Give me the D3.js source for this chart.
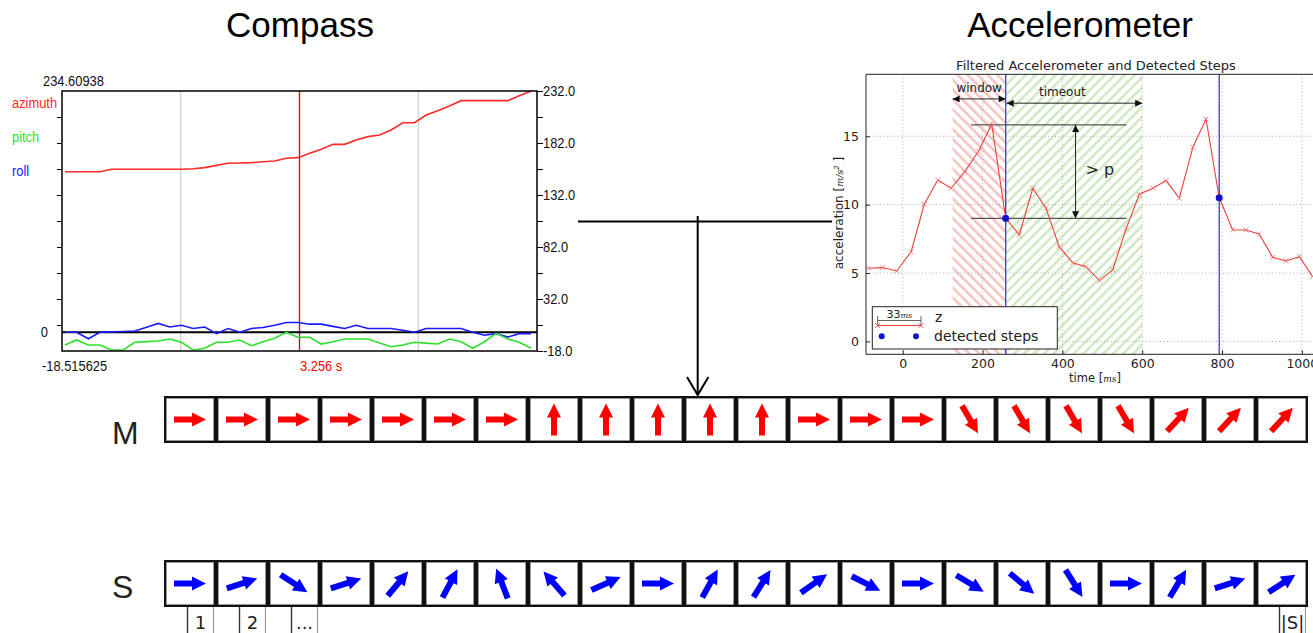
<!DOCTYPE html>
<html>
<head>
<meta charset="utf-8">
<script src="https://cdn.jsdelivr.net/npm/d3@7"></script>
<style>
body { margin: 0; background: #fff; }
svg { display: block; }
</style>
</head>
<body>
<svg width="1313" height="633"></svg>
<script>
// --- compass samples (degrees), one per sample index
var azimuth = [154.4,154.4,154.4,154.4,156.7,156.7,156.7,156.7,156.7,156.7,156.7,157.2,158.3,160.5,162.5,162.8,163.1,164.0,164.7,167.3,167.9,172.1,175.9,180.7,180.7,184.9,188.1,189.7,194.5,201.5,201.5,208.9,213.1,217.6,222.7,222.7,222.7,222.7,222.7,227.5,232.0];
var pitch = [-12.2,-7.4,-12.2,-12.2,-17,-17,-9.6,-9,-8.4,-6.5,-9.6,-17,-15.4,-9.6,-9.6,-7.4,-12.9,-9.1,-5.8,0,-4.8,-4.8,-11.3,-9.1,-6.5,-6.5,-6.5,-10.2,-13.9,-12.2,-9.6,-10.4,-11.3,-6.5,-9.1,-15.4,-9.1,-1,-6.5,-9.6,-15.4];
var roll = [0,0,-6.2,0,0.4,0.8,1.2,4.8,8.5,5.1,6.8,3.6,5.1,-1.3,3.6,0,3.6,4.6,6.8,9.4,9.4,7.8,7.8,5.7,3.6,6.8,3.6,3.6,3.6,1.9,0,3.6,3.6,3.6,3.6,0,-2.9,-1.3,-4.6,-1.3,-1.3];
var compassNames = ["azimuth", "pitch", "roll"];
var compassRightTicks = [232, 182, 132, 82, 32, -18];
var compassMax = "234.60938", compassMin = "-18.515625", cursorLabel = "3.256 s";

// --- accelerometer
var accTime = [-86,-50,-15,21,54,88,121,155,190,223,258,292,326,359,392,426,459,493,526,560,593,627,660,693,727,760,793,827,860,893,927,960,994,1027];
var accZ = [5.35,5.4,5.15,6.56,10.03,11.8,11.2,12.4,13.9,15.9,9.0,7.8,11.2,9.74,6.93,5.76,5.47,4.45,5.23,8.27,10.76,11.2,11.76,10.47,14.2,16.26,10.5,8.15,8.15,7.86,6.15,5.88,6.2,4.74];
var stepTime = [258, 793];
var stepZ = [9.0, 10.5];
var windowSpan = [125, 258];
var timeoutSpan = [258, 600];
var peakLevels = [15.83, 9.0];
var accXTicks = [0, 200, 400, 600, 800, 1000];
var accYTicks = [0, 5, 10, 15];

// --- direction cells (degrees, counter-clockwise from east)
var magAngles = [0,0,0,0,0,0,0,90,90,90,90,90,0,0,0,-60,-60,-60,-60,47,47,47];
var stepAngles = [0,18,-33,18,50,62,111,131,24,0,61,58,35,-27,0,-31,-40,-58,0,59,18,33];
var indexLabels = [[0, "1"], [1, "2"], [2, "..."], [21, "|S|"]];

var svg = d3.select("svg");
var sans = "'Liberation Sans', Arial, sans-serif";
var mpl = "'DejaVu Sans', sans-serif";

// condensed look of the compass widget text
function ntext(g, x, y, str, color, anchor) {
  return g.append("text")
    .attr("transform", "translate(" + x + "," + y + ") scale(0.86,1)")
    .attr("text-anchor", anchor || "start")
    .attr("fill", color || "#111")
    .style("font", "15px " + sans).text(str);
}

var defs = svg.append("defs");
function hatch(id, color, angle) {
  var p = defs.append("pattern").attr("id", id)
    .attr("patternUnits", "userSpaceOnUse")
    .attr("width", 7).attr("height", 7)
    .attr("patternTransform", "rotate(" + angle + ")");
  p.append("rect").attr("width", 7).attr("height", 7).attr("fill", "#fff");
  p.append("rect").attr("width", 2.6).attr("height", 7).attr("fill", color);
}
hatch("hatchRed", "#f5c4c4", -45);
hatch("hatchGreen", "#cfe9c3", 45);
defs.append("marker").attr("id", "tri")
  .attr("viewBox", "0 0 10 10").attr("refX", 10).attr("refY", 5)
  .attr("markerWidth", 9).attr("markerHeight", 7)
  .attr("markerUnits", "userSpaceOnUse")
  .attr("orient", "auto-start-reverse")
  .append("path").attr("d", "M0,0 L10,5 L0,10 Z").attr("fill", "#111");

// titles
svg.append("text").attr("x", 300).attr("y", 37).attr("text-anchor", "middle")
  .style("font", "35px " + sans).text("Compass");
svg.append("text").attr("x", 1080).attr("y", 37).attr("text-anchor", "middle")
  .style("font", "35px " + sans).text("Accelerometer");

//Compass===
var cp = {left: 62, right: 537, top: 91, bottom: 351};
var cx = d3.scaleLinear().domain([0, azimuth.length - 1]).range([65, 531]);
var cy = d3.scaleLinear().domain([-18, 232]).range([cp.bottom, cp.top]);
var cg = svg.append("g");

[0.25, 0.75].forEach(function(f) {
  var x = cp.left + f * (cp.right - cp.left);
  cg.append("line").attr("x1", x).attr("x2", x).attr("y1", cp.top).attr("y2", cp.bottom)
    .attr("stroke", "#c4c4c4").attr("stroke-width", 1);
});
var cursorX = (cp.left + cp.right) / 2;
cg.append("line").attr("x1", cursorX).attr("x2", cursorX).attr("y1", cp.top).attr("y2", cp.bottom)
  .attr("stroke", "#ff0000").attr("stroke-width", 1.4);
cg.append("line").attr("x1", cp.left).attr("x2", cp.right).attr("y1", cy(0)).attr("y2", cy(0))
  .attr("stroke", "#000").attr("stroke-width", 2);

var cline = d3.line().x(function(d, i) { return cx(i); }).y(function(d) { return cy(d); });
[[roll, "#1a1aff"], [pitch, "#2ee02e"], [azimuth, "#ff2a2a"]].forEach(function(s) {
  cg.append("path").datum(s[0]).attr("d", cline).attr("fill", "none")
    .attr("stroke", s[1]).attr("stroke-width", 1.6);
});

cg.append("rect").attr("x", cp.left).attr("y", cp.top)
  .attr("width", cp.right - cp.left).attr("height", cp.bottom - cp.top)
  .attr("fill", "none").attr("stroke", "#000").attr("stroke-width", 1.5);

var rightAxis = d3.axisRight(cy).tickValues(d3.range(-18, 233, 25)).tickSize(6).tickFormat("");
var ra = cg.append("g").attr("transform", "translate(" + cp.right + ",0)").call(rightAxis);
var leftAxis = d3.axisLeft(cy).tickValues(d3.range(7, 208, 25)).tickSize(5).tickFormat("");
var la = cg.append("g").attr("transform", "translate(" + cp.left + ",0)").call(leftAxis);
[ra, la].forEach(function(a) {
  a.select(".domain").remove();
  a.selectAll("line").attr("stroke", "#000");
});
compassRightTicks.forEach(function(v) {
  ntext(cg, cp.right + 6, cy(v) + 5, v.toFixed(1));
});

ntext(cg, 48, cy(0) + 5, "0", "#111", "end");
ntext(cg, 43, 86, compassMax);
ntext(cg, 42, 371, compassMin);
ntext(cg, 300, 371, cursorLabel, "#ff0000");
var nameColors = ["#ff2a2a", "#2ee02e", "#1a1aff"];
compassNames.forEach(function(n, i) {
  ntext(cg, 12, 108 + i * 34, n, nameColors[i]);
});

//Accelerometer===
var ap = {left: 866, right: 1313, top: 74.3, bottom: 354.3};
var ax = d3.scaleLinear().domain([-92, 1028]).range([ap.left, ap.right]);
var ay = d3.scaleLinear().domain([-0.94, 19.53]).range([ap.bottom, ap.top]);
var ag = svg.append("g");
defs.append("clipPath").attr("id", "accClip").append("rect")
  .attr("x", ap.left).attr("y", ap.top).attr("width", ap.right - ap.left).attr("height", ap.bottom - ap.top);
var inner = ag.append("g").attr("clip-path", "url(#accClip)");

inner.append("rect").attr("x", ax(windowSpan[0])).attr("y", ap.top)
  .attr("width", ax(windowSpan[1]) - ax(windowSpan[0])).attr("height", ap.bottom - ap.top)
  .attr("fill", "url(#hatchRed)");
inner.append("rect").attr("x", ax(timeoutSpan[0])).attr("y", ap.top)
  .attr("width", ax(timeoutSpan[1]) - ax(timeoutSpan[0])).attr("height", ap.bottom - ap.top)
  .attr("fill", "url(#hatchGreen)");

accXTicks.forEach(function(t) {
  inner.append("line").attr("x1", ax(t)).attr("x2", ax(t)).attr("y1", ap.top).attr("y2", ap.bottom)
    .attr("stroke", "#9a9a9a").attr("stroke-width", 0.8).attr("stroke-dasharray", "1,2.5");
});
accYTicks.forEach(function(v) {
  inner.append("line").attr("x1", ap.left).attr("x2", ap.right).attr("y1", ay(v)).attr("y2", ay(v))
    .attr("stroke", "#9a9a9a").attr("stroke-width", 0.8).attr("stroke-dasharray", "1,2.5");
});

stepTime.forEach(function(t) {
  inner.append("line").attr("x1", ax(t)).attr("x2", ax(t)).attr("y1", ap.top).attr("y2", ap.bottom)
    .attr("stroke", "#3c3cd8").attr("stroke-width", 1.3);
});

// "> p" levels
peakLevels.forEach(function(v) {
  inner.append("line").attr("x1", ax(171)).attr("x2", ax(561)).attr("y1", ay(v)).attr("y2", ay(v))
    .attr("stroke", "#555").attr("stroke-width", 1.2);
});
inner.append("line").attr("x1", ax(433)).attr("x2", ax(433))
  .attr("y1", ay(peakLevels[0])).attr("y2", ay(peakLevels[1]))
  .attr("stroke", "#222").attr("stroke-width", 1)
  .attr("marker-start", "url(#tri)").attr("marker-end", "url(#tri)");
inner.append("text").attr("x", ax(433) + 10).attr("y", ay(12.5) + 5)
  .style("font", "16px " + mpl).attr("fill", "#222").text("> p");

// window / timeout arrows
inner.append("line").attr("x1", ax(windowSpan[0])).attr("x2", ax(windowSpan[1]))
  .attr("y1", ay(17.73)).attr("y2", ay(17.73)).attr("stroke", "#222")
  .attr("marker-start", "url(#tri)").attr("marker-end", "url(#tri)");
inner.append("text").attr("x", (ax(windowSpan[0]) + ax(windowSpan[1])) / 2).attr("y", ay(18.25))
  .attr("text-anchor", "middle").style("font", "12px " + mpl).attr("fill", "#222").text("window");
inner.append("line").attr("x1", ax(timeoutSpan[0]) + 1).attr("x2", ax(timeoutSpan[1]))
  .attr("y1", ay(17.42)).attr("y2", ay(17.42)).attr("stroke", "#222")
  .attr("marker-start", "url(#tri)").attr("marker-end", "url(#tri)");
inner.append("text").attr("x", ax(400)).attr("y", ay(17.95))
  .attr("text-anchor", "middle").style("font", "12px " + mpl).attr("fill", "#222").text("timeout");

// signal
var accPts = accTime.map(function(t, i) { return [t, accZ[i]]; });
inner.append("path").datum(accPts)
  .attr("d", d3.line().x(function(d) { return ax(d[0]); }).y(function(d) { return ay(d[1]); }))
  .attr("fill", "none").attr("stroke", "#e8403e").attr("stroke-width", 1.1);
inner.selectAll(".xm").data(accPts).enter().append("path")
  .attr("transform", function(d) { return "translate(" + ax(d[0]) + "," + ay(d[1]) + ")"; })
  .attr("d", "M-2.5,-2.5L2.5,2.5M-2.5,2.5L2.5,-2.5")
  .attr("stroke", "#f07070").attr("stroke-width", 0.8);
stepTime.forEach(function(t, i) {
  inner.append("circle").attr("cx", ax(t)).attr("cy", ay(stepZ[i])).attr("r", 3.5).attr("fill", "#1010d0");
});

// frame and ticks
ag.append("path")
  .attr("d", "M" + ap.right + "," + ap.top + "H" + ap.left + "V" + ap.bottom + "H" + ap.right)
  .attr("fill", "none").attr("stroke", "#222").attr("stroke-width", 1);
var xa = ag.append("g").attr("transform", "translate(0," + ap.bottom + ")")
  .call(d3.axisBottom(ax).tickValues(accXTicks).tickSize(-4).tickPadding(5).tickFormat(d3.format("d")));
var ya = ag.append("g").attr("transform", "translate(" + ap.left + ",0)")
  .call(d3.axisLeft(ay).tickValues(accYTicks).tickSize(-4).tickPadding(7));
[xa, ya].forEach(function(a) {
  a.select(".domain").remove();
  a.selectAll("line").attr("stroke", "#222");
  a.selectAll("text").style("font", "12.5px " + mpl).attr("fill", "#222");
});

ag.append("text").attr("x", 1096).attr("y", 70).attr("text-anchor", "middle")
  .style("font", "13px " + mpl).attr("fill", "#222").text("Filtered Accelerometer and Detected Steps");
var xl = ag.append("text").attr("x", 1095).attr("y", 382).attr("text-anchor", "middle")
  .style("font", "11.5px " + mpl).attr("fill", "#222");
xl.append("tspan").text("time [");
xl.append("tspan").style("font-style", "italic").style("font-family", "'DejaVu Serif', serif").style("font-size", "9px").text("ms");
xl.append("tspan").text("]");
var yl = ag.append("text").attr("transform", "translate(843,213) rotate(-90)").attr("text-anchor", "middle")
  .style("font", "12px " + mpl).attr("fill", "#222");
yl.append("tspan").text("acceleration [");
yl.append("tspan").style("font-style", "italic").style("font-family", "'DejaVu Serif', serif").style("font-size", "9.5px").text("m/s");
yl.append("tspan").attr("dy", -4).style("font-size", "7px").style("font-style", "italic").text("2");
yl.append("tspan").attr("dy", 4).text(" ]");

// legend
var lg = ag.append("g");
lg.append("rect").attr("x", 872.3).attr("y", 306.7).attr("width", 185).attr("height", 42.3)
  .attr("fill", "#fff").attr("stroke", "#222").attr("stroke-width", 1);
lg.append("path").attr("d", "M877.7,316V326M921,316V326M877.7,320.5H921")
  .attr("stroke", "#555").attr("stroke-width", 0.9).attr("fill", "none");
var lt = lg.append("text").attr("x", 899.3).attr("y", 318).attr("text-anchor", "middle")
  .style("font", "11px " + mpl).attr("fill", "#222");
lt.append("tspan").text("33");
lt.append("tspan").style("font-style", "italic").style("font-family", "'DejaVu Serif', serif").style("font-size", "8px").text("ms");
lg.append("line").attr("x1", 877.7).attr("x2", 921).attr("y1", 325.5).attr("y2", 325.5)
  .attr("stroke", "#e8403e").attr("stroke-width", 1.1);
[877.7, 921].forEach(function(x) {
  lg.append("path").attr("transform", "translate(" + x + ",325.5)")
    .attr("d", "M-2.5,-2.5L2.5,2.5M-2.5,2.5L2.5,-2.5").attr("stroke", "#e8403e").attr("stroke-width", 0.8);
});
lg.append("text").attr("x", 935).attr("y", 322).style("font", "14px " + mpl).attr("fill", "#222").text("z");
[881.7, 916].forEach(function(x) {
  lg.append("circle").attr("cx", x).attr("cy", 336.3).attr("r", 3).attr("fill", "#1010d0");
});
lg.append("text").attr("x", 934).attr("y", 341).style("font", "14px " + mpl).attr("fill", "#222").text("detected steps");

//Connector===
svg.append("path").attr("d", "M578,221.5H832M697.7,216V395")
  .attr("stroke", "#000").attr("stroke-width", 2).attr("fill", "none");
svg.append("path").attr("d", "M687,377L697.7,395L708.4,377")
  .attr("stroke", "#000").attr("stroke-width", 2).attr("fill", "none");

//Cells===
var cell = d3.scaleBand().domain(d3.range(22)).range([164, 1308]);
var arrowShape = "M-16,-3L2,-3L2,-7L16,0L2,7L2,3L-16,3Z";
function drawRow(y0, angles, color, label, labelY) {
  var g = svg.append("g");
  g.append("rect").attr("x", 164).attr("y", y0).attr("width", 1144).attr("height", 47).attr("fill", "#111");
  var c = g.selectAll(".c").data(angles).enter().append("g")
    .attr("transform", function(d, i) { return "translate(" + cell(i) + "," + y0 + ")"; });
  c.append("rect").attr("x", 2.5).attr("y", 2.5).attr("width", 47).attr("height", 42)
    .attr("fill", "#fff").attr("stroke", "#9a9a9a").attr("stroke-width", 0.8);
  c.append("path").attr("d", arrowShape).attr("fill", color)
    .attr("transform", function(d) { return "translate(26,23.5) rotate(" + (-d) + ")"; });
  g.append("text").attr("x", 112).attr("y", labelY).style("font", "32px " + sans)
    .attr("fill", "#222").text(label);
}
drawRow(396, magAngles, "#ff0000", "M", 444);
drawRow(560, stepAngles, "#0000ff", "S", 598);

indexLabels.forEach(function(d) {
  var x0 = cell(d[0]) + 23.5;
  svg.append("line").attr("x1", x0).attr("x2", x0).attr("y1", 607).attr("y2", 633)
    .attr("stroke", "#333").attr("stroke-width", 1.4);
  svg.append("line").attr("x1", x0 + 26).attr("x2", x0 + 26).attr("y1", 607).attr("y2", 633)
    .attr("stroke", "#999").attr("stroke-width", 1.2);
  svg.append("text").attr("x", x0 + 13).attr("y", 629).attr("text-anchor", "middle")
    .style("font", "18px " + mpl).attr("fill", "#222").text(d[1]);
});
</script>
</body>
</html>
